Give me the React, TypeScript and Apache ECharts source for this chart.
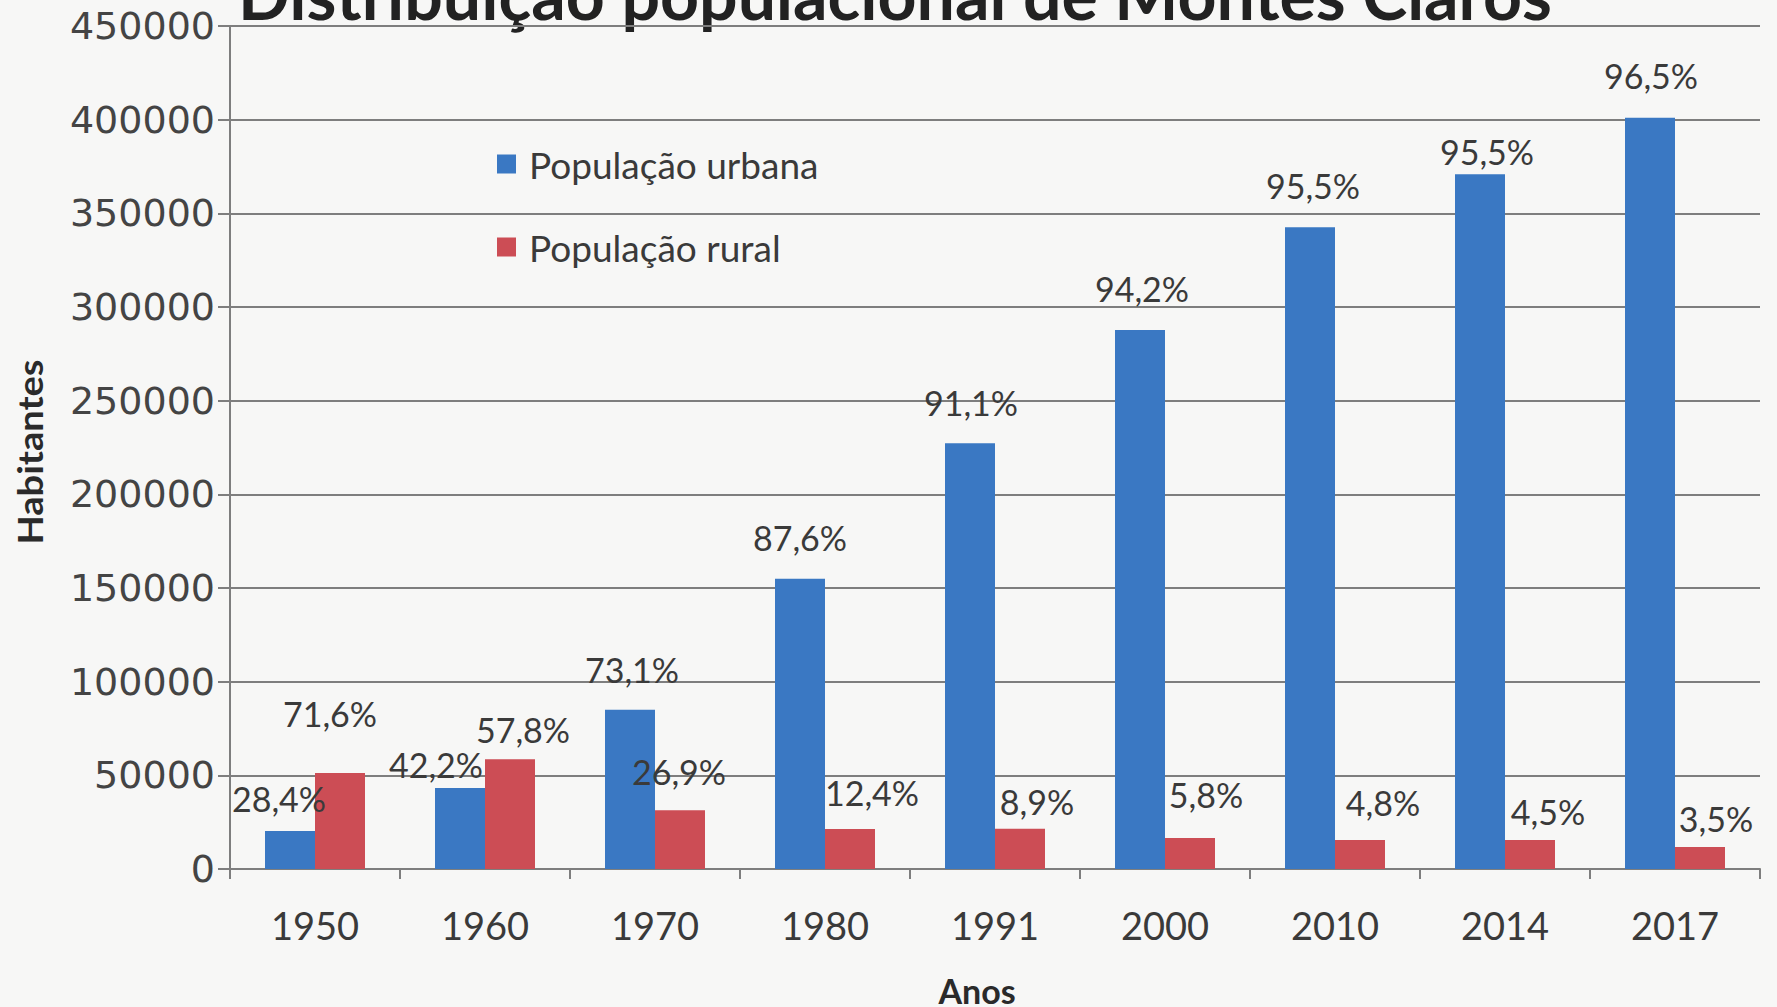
import React, { useEffect, useRef } from "react";
import * as echarts from "echarts";

const titleText = "Distribuição populacional de Montes Claros";
const years = ["1950", "1960", "1970", "1980", "1991", "2000", "2010", "2014", "2017"];
const urban = [20300, 43200, 85000, 155000, 227300, 287700, 342600, 370800, 401000];
const rural = [51200, 58600, 31400, 21300, 21500, 16500, 15500, 15500, 11700];
const urbanPct = ["28,4%", "42,2%", "73,1%", "87,6%", "91,1%", "94,2%", "95,5%", "95,5%", "96,5%"];
const ruralPct = ["71,6%", "57,8%", "26,9%", "12,4%", "8,9%", "5,8%", "4,8%", "4,5%", "3,5%"];
const yTicks = { min: 0, max: 450000, interval: 50000 };

// label nudges: [dx, gap of label centre above bar top] in px
const urbanNudge = [[-11, 32], [-24, 24], [2, 40], [0, 41], [1, 41], [2, 42], [3, 42], [7, 23], [1, 42]];
const ruralNudge = [[-10, 60], [13, 30], [-1, 39], [22, 37], [17, 27], [16, 44], [23, 37], [18, 28], [16, 29]];

const LABEL_FONT = 34;
const LABEL_LH = 34;

function makeData(values: number[], pct: string[], nudge: number[][]) {
  return values.map((v, i) => ({
    value: v,
    label: {
      formatter: pct[i],
      offset: [nudge[i][0], -(nudge[i][1] - LABEL_LH / 2)],
    },
  }));
}

export default function App() {
  const ref = useRef<HTMLDivElement>(null);
  useEffect(() => {
    if (!ref.current) return;
    const chart = echarts.init(ref.current, undefined, { renderer: "svg" });
    const textColor = "#3a3a3a";
    const gridColor = "#7e7e7e";
    const labelStyle = {
      show: true,
      position: "top",
      distance: 0,
      fontFamily: "Lato",
      fontSize: LABEL_FONT,
      lineHeight: LABEL_LH,
      color: textColor,
    };
    chart.setOption({
      animation: false,
      backgroundColor: "#f7f7f6",
      grid: { left: 230, right: 17, top: 26, bottom: 138, containLabel: false },
      legend: {
        orient: "vertical",
        left: 492,
        top: 139,
        icon: "rect",
        itemWidth: 19,
        itemHeight: 19,
        itemGap: 43,
        textStyle: {
          fontFamily: "Lato",
          fontSize: 37,
          lineHeight: 40,
          color: textColor,
          padding: [0, 0, 0, 8],
        },
        data: ["População urbana", "População rural"],
      },
      xAxis: {
        type: "category",
        data: years,
        axisLine: { show: true, lineStyle: { color: gridColor, width: 2 } },
        axisTick: { show: true, length: 10, lineStyle: { color: gridColor, width: 2 } },
        axisLabel: { fontFamily: "Lato", fontSize: 38, color: textColor, margin: 37 },
      },
      yAxis: {
        type: "value",
        min: yTicks.min,
        max: yTicks.max,
        interval: yTicks.interval,
        axisLine: { show: true, lineStyle: { color: gridColor, width: 2 } },
        axisTick: { show: true, length: 12, lineStyle: { color: gridColor, width: 2 } },
        axisLabel: {
          fontFamily: "DejaVu Sans",
          fontSize: 38,
          color: "#444",
          margin: 15,
          formatter: (v: number) => String(v),
        },
        splitLine: { show: true, lineStyle: { color: gridColor, width: 2 } },
      },
      series: [
        {
          name: "População urbana",
          type: "bar",
          barWidth: 50,
          barGap: "0%",
          itemStyle: { color: "#3a78c3" },
          label: labelStyle,
          data: makeData(urban, urbanPct, urbanNudge),
        },
        {
          name: "População rural",
          type: "bar",
          barWidth: 50,
          barGap: "0%",
          itemStyle: { color: "#cc4d55" },
          label: labelStyle,
          data: makeData(rural, ruralPct, ruralNudge),
        },
      ],
      graphic: [
        {
          type: "text",
          x: 895,
          y: -7,
          style: {
            text: titleText,
            font: "bold 68px Lato",
            fill: "#222",
            textAlign: "center",
            textVerticalAlign: "middle",
            align: "center",
            verticalAlign: "middle",
          },
        },
        {
          type: "text",
          x: 30,
          y: 452,
          rotation: Math.PI / 2,
          scaleX: 1.12,
          style: {
            text: "Habitantes",
            font: "bold 34px Lato",
            fill: "#2a2a2a",
            textAlign: "center",
            textVerticalAlign: "middle",
            align: "center",
            verticalAlign: "middle",
          },
        },
        {
          type: "text",
          x: 977,
          y: 990,
          style: {
            text: "Anos",
            font: "bold 34px Lato",
            fill: "#2a2a2a",
            textAlign: "center",
            textVerticalAlign: "middle",
            align: "center",
            verticalAlign: "middle",
          },
        },
      ],
    });
    return () => chart.dispose();
  }, []);
  return (
    <div
      ref={ref}
      style={{ position: "fixed", left: 0, top: 0, width: 1777, height: 1007 }}
    />
  );
}
